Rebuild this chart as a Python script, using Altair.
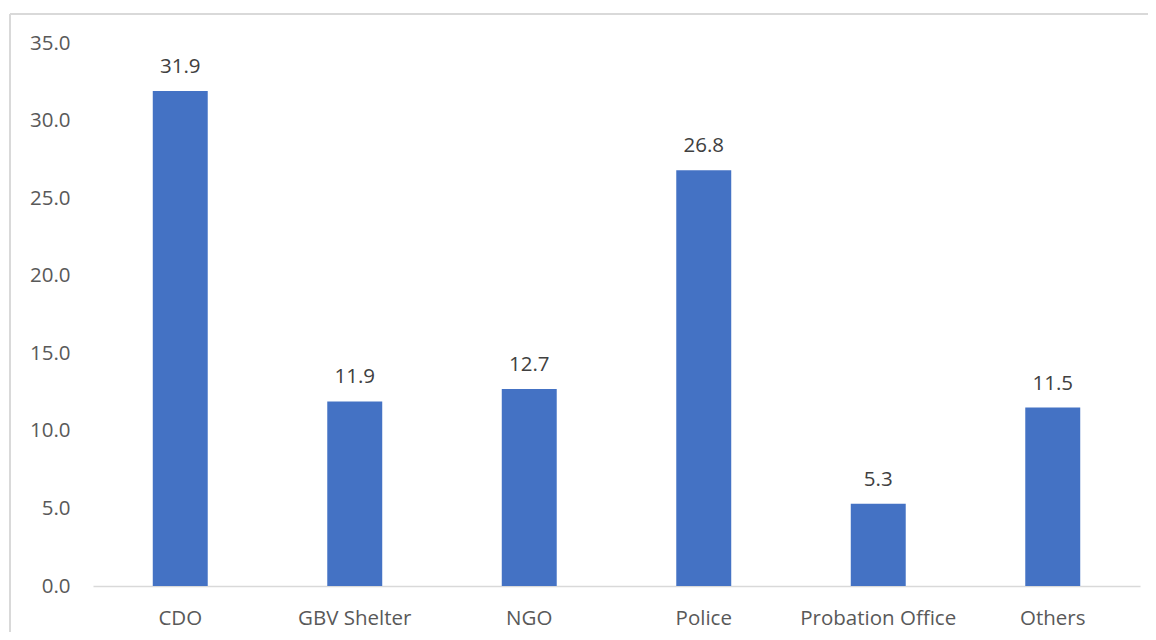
import altair as alt
import pandas as pd

categories = ["CDO", "GBV Shelter", "NGO", "Police", "Probation Office", "Others"]
values = [31.9, 11.9, 12.7, 26.8, 5.3, 11.5]

df = pd.DataFrame({"cat": categories, "val": values})

FONT = "Open Sans"
FS = 20.5

x = alt.X("cat:N", sort=categories, title=None,
          scale=alt.Scale(paddingInner=0.685, paddingOuter=0.3425),
          axis=alt.Axis(labelAngle=0, labelFontSize=FS, labelColor="#595959",
                        labelFont=FONT, labelPadding=22, ticks=False,
                        domainColor="#d9d9d9", domainWidth=1.5))
y = alt.Y("val:Q", title=None,
          scale=alt.Scale(domain=[0, 35], nice=False),
          axis=alt.Axis(values=[0, 5, 10, 15, 20, 25, 30, 35], format=".1f",
                        labelFontSize=FS, labelColor="#595959", labelFont=FONT,
                        labelPadding=23, ticks=False, domain=False, grid=False))

bars = alt.Chart(df).mark_bar(color="#4472C4").encode(x=x, y=y)
labels = alt.Chart(df).mark_text(dy=-14, fontSize=FS, color="#404040", font=FONT,
                                 baseline="bottom").encode(
    x=alt.X("cat:N", sort=categories),
    y=alt.Y("val:Q"),
    text=alt.Text("val:Q", format=".1f"))

border_top = alt.Chart(df).mark_rule(color="#d9d9d9", strokeWidth=1.5).encode(
    x=alt.value(-83), x2=alt.value(1200), y=alt.value(-29))
border_left = alt.Chart(df).mark_rule(color="#d9d9d9", strokeWidth=1.5).encode(
    x=alt.value(-83), y=alt.value(-29), y2=alt.value(700))

chart = alt.layer(border_top, border_left, bars, labels).properties(
    width=1047, height=543,
    background="white",
    autosize=alt.AutoSizeParams(type="none"),
    padding={"left": 85, "top": 35, "right": 8, "bottom": 46},
).configure_view(strokeWidth=0, stroke="transparent")

chart.save("out.html", embed_options={"renderer": "svg", "actions": False})
